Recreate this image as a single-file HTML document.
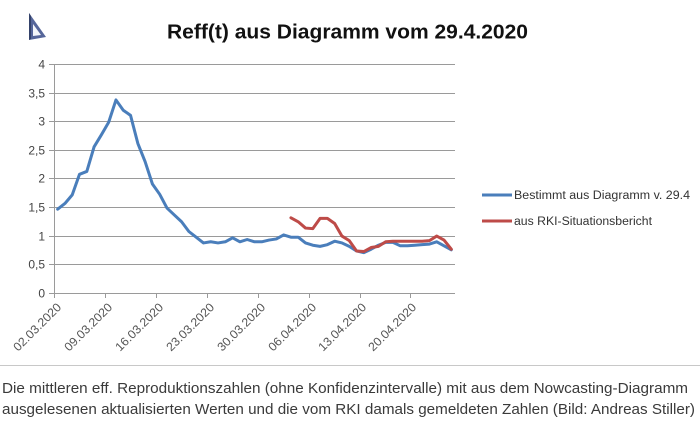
<!DOCTYPE html>
<html><head><meta charset="utf-8"><style>
html,body{margin:0;padding:0;background:#fff;}
svg{display:block;}
</style></head><body>
<svg width="700" height="424" viewBox="0 0 700 424" xmlns="http://www.w3.org/2000/svg">
<rect width="700" height="424" fill="#fff"/>
<!-- cursor icon -->
<polygon points="29,13 46,37 29,40" fill="#56669a"/>
<polygon points="29,13 31,16 31,39 29,40" fill="#34426a"/>
<polygon points="33,24 41,35 33,36" fill="#f4f6fa"/>
<!-- title -->
<text x="167" y="38.5" font-family="Liberation Sans, sans-serif" font-weight="bold" font-size="20" fill="#111" textLength="361" lengthAdjust="spacingAndGlyphs">Reff(t) aus Diagramm vom 29.4.2020</text>
<!-- grid -->
<g stroke="#9a9a9a" stroke-width="1" shape-rendering="crispEdges">
<line x1="49" y1="64.5" x2="455" y2="64.5"/>
<line x1="49" y1="93.5" x2="455" y2="93.5"/>
<line x1="49" y1="121.5" x2="455" y2="121.5"/>
<line x1="49" y1="150.5" x2="455" y2="150.5"/>
<line x1="49" y1="178.5" x2="455" y2="178.5"/>
<line x1="49" y1="207.5" x2="455" y2="207.5"/>
<line x1="49" y1="236.5" x2="455" y2="236.5"/>
<line x1="49" y1="264.5" x2="455" y2="264.5"/>
<line x1="49" y1="293.5" x2="455" y2="293.5"/>
<line x1="54.5" y1="64" x2="54.5" y2="293"/>
<line x1="54.5" y1="293" x2="54.5" y2="298"/>
<line x1="105.5" y1="293" x2="105.5" y2="298"/>
<line x1="156.5" y1="293" x2="156.5" y2="298"/>
<line x1="207.5" y1="293" x2="207.5" y2="298"/>
<line x1="258.5" y1="293" x2="258.5" y2="298"/>
<line x1="309.5" y1="293" x2="309.5" y2="298"/>
<line x1="360.5" y1="293" x2="360.5" y2="298"/>
<line x1="410.5" y1="293" x2="410.5" y2="298"/>
</g>
<!-- y labels -->
<g font-family="Liberation Sans, sans-serif" font-size="12" fill="#444" text-anchor="end">
<text x="45" y="68.5">4</text>
<text x="45" y="97.5">3,5</text>
<text x="45" y="125.5">3</text>
<text x="45" y="154.5">2,5</text>
<text x="45" y="182.5">2</text>
<text x="45" y="211.5">1,5</text>
<text x="45" y="240.5">1</text>
<text x="45" y="268.5">0,5</text>
<text x="45" y="297.5">0</text>
</g>
<!-- x labels -->
<g font-family="Liberation Sans, sans-serif" font-size="12" fill="#555" text-anchor="end">
<text transform="translate(62,308) rotate(-45)" textLength="62" lengthAdjust="spacingAndGlyphs">02.03.2020</text>
<text transform="translate(113,308) rotate(-45)" textLength="62" lengthAdjust="spacingAndGlyphs">09.03.2020</text>
<text transform="translate(164,308) rotate(-45)" textLength="62" lengthAdjust="spacingAndGlyphs">16.03.2020</text>
<text transform="translate(215,308) rotate(-45)" textLength="62" lengthAdjust="spacingAndGlyphs">23.03.2020</text>
<text transform="translate(266,308) rotate(-45)" textLength="62" lengthAdjust="spacingAndGlyphs">30.03.2020</text>
<text transform="translate(317,308) rotate(-45)" textLength="62" lengthAdjust="spacingAndGlyphs">06.04.2020</text>
<text transform="translate(367,308) rotate(-45)" textLength="62" lengthAdjust="spacingAndGlyphs">13.04.2020</text>
<text transform="translate(417,308) rotate(-45)" textLength="62" lengthAdjust="spacingAndGlyphs">20.04.2020</text>
</g>
<!-- series -->
<g transform="matrix(7.29 0 0 -57.2 57.645 292.7)" fill="none" stroke-linejoin="round" stroke-linecap="round">
<polyline vector-effect="non-scaling-stroke" stroke="#4a7ebb" stroke-width="3" points="0,1.46 1,1.56 2,1.71 3,2.07 4,2.12 5,2.55 6,2.76 7,2.98 8,3.37 9,3.19 10,3.1 11,2.61 12,2.29 13,1.9 14,1.72 15,1.48 16,1.36 17,1.24 18,1.07 19,0.97 20,0.87 21,0.89 22,0.87 23,0.89 24,0.96 25,0.89 26,0.93 27,0.89 28,0.89 29,0.92 30,0.94 31,1.01 32,0.97 33,0.97 34,0.87 35,0.83 36,0.81 37,0.84 38,0.9 39,0.87 40,0.81 41,0.73 42,0.7 43,0.76 44,0.83 45,0.88 46,0.88 47,0.82 48,0.82 49,0.83 50,0.84 51,0.85 52,0.89 53,0.82 54,0.75"/>
<polyline vector-effect="non-scaling-stroke" stroke="#be4b48" stroke-width="3" points="32,1.31 33,1.24 34,1.13 35,1.12 36,1.3 37,1.3 38,1.21 39,0.99 40,0.91 41,0.73 42,0.72 43,0.79 44,0.81 45,0.89 46,0.9 47,0.9 48,0.9 49,0.9 50,0.9 51,0.91 52,0.99 53,0.92 54,0.76"/>
</g>
<!-- legend -->
<line x1="482" y1="195" x2="512" y2="195" stroke="#4a7ebb" stroke-width="3"/>
<line x1="482" y1="221" x2="512" y2="221" stroke="#be4b48" stroke-width="3"/>
<g font-family="Liberation Sans, sans-serif" font-size="11.5" fill="#333">
<text x="514" y="199" textLength="176" lengthAdjust="spacingAndGlyphs">Bestimmt aus Diagramm v. 29.4</text>
<text x="514" y="225" textLength="138" lengthAdjust="spacingAndGlyphs">aus RKI-Situationsbericht</text>
</g>
<!-- divider -->
<line x1="0" y1="365.5" x2="700" y2="365.5" stroke="#c8c8c8" stroke-width="1"/>
<!-- caption -->
<g font-family="Liberation Sans, sans-serif" font-size="14.5" fill="#3a3a3a">
<text x="2" y="393" textLength="686" lengthAdjust="spacingAndGlyphs">Die mittleren eff. Reproduktionszahlen (ohne Konfidenzintervalle) mit aus dem Nowcasting-Diagramm</text>
<text x="2" y="414" textLength="693" lengthAdjust="spacingAndGlyphs">ausgelesenen aktualisierten Werten und die vom RKI damals gemeldeten Zahlen (Bild: Andreas Stiller)</text>
</g>
</svg>
</body></html>
